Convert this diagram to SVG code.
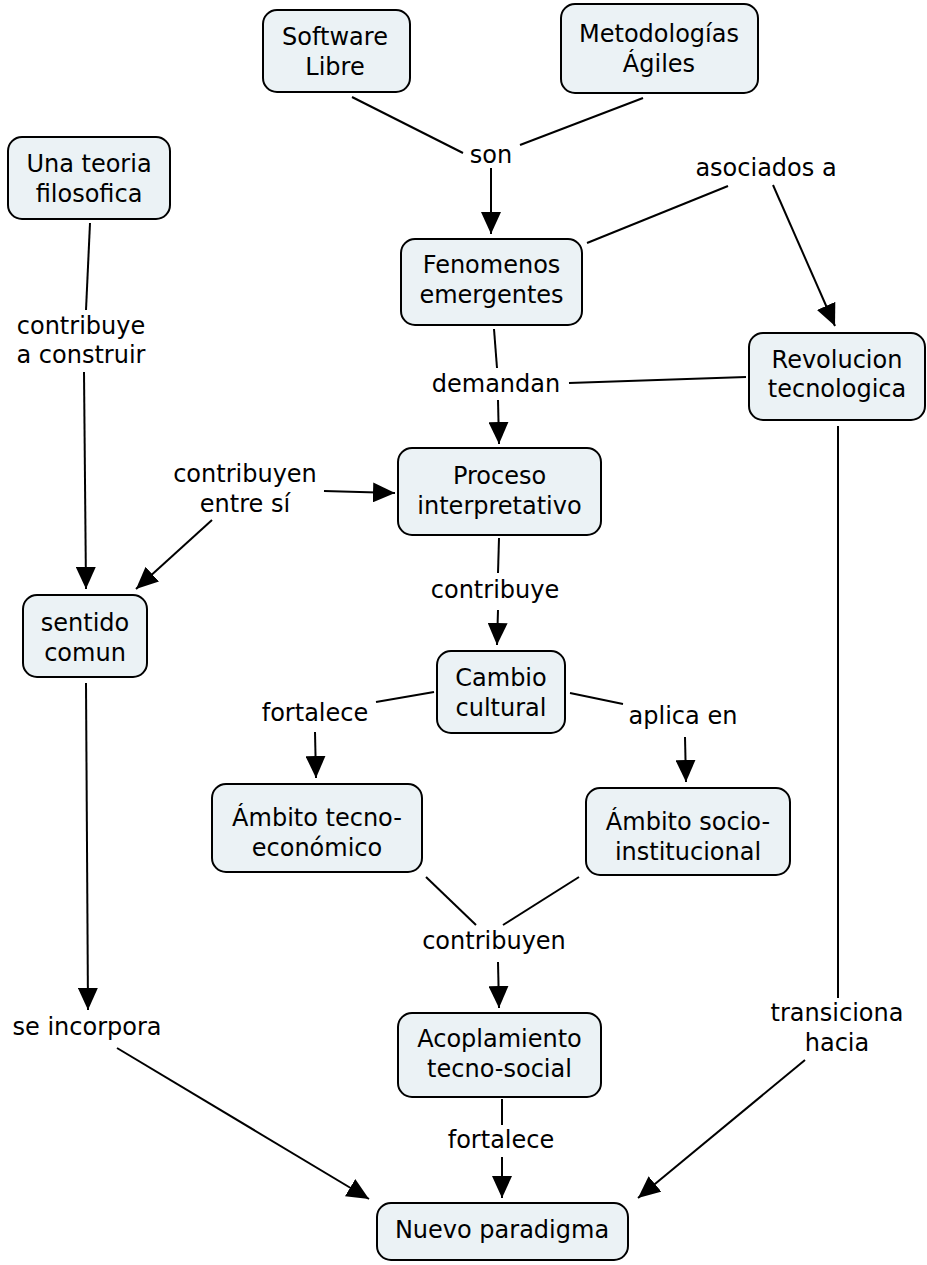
<svg xmlns="http://www.w3.org/2000/svg" width="927" height="1265" viewBox="0 0 927 1265">
<style>
.n rect{fill:#ebf2f5;stroke:#000;stroke-width:2}
text{font-family:"DejaVu Sans","Verdana",sans-serif;font-size:24px;fill:#000;text-anchor:middle}
.c line{stroke:#000;stroke-width:2;fill:none}
</style>
<defs>
<marker id="ah" viewBox="0 0 22 20" refX="22" refY="10" markerWidth="22" markerHeight="20" markerUnits="userSpaceOnUse" orient="auto">
<path d="M0,0 L22,10 L0,20 z" fill="#000"/>
</marker>
</defs>
<rect width="927" height="1265" fill="#fff"/>
<g class="c" id="connectors">
<line x1="352" y1="97" x2="463" y2="153"/>
<line x1="643" y1="98" x2="520" y2="145"/>
<line x1="491" y1="168" x2="491" y2="234" marker-end="url(#ah)"/>
<line x1="587" y1="243" x2="728" y2="186"/>
<line x1="773" y1="185" x2="835" y2="326" marker-end="url(#ah)"/>
<line x1="494" y1="329" x2="497" y2="368"/>
<line x1="498" y1="400" x2="499" y2="444" marker-end="url(#ah)"/>
<line x1="746" y1="377" x2="569" y2="383"/>
<line x1="838" y1="426" x2="838" y2="998"/>
<line x1="805" y1="1060" x2="638" y2="1198" marker-end="url(#ah)"/>
<line x1="90" y1="223" x2="86" y2="310"/>
<line x1="84" y1="372" x2="86" y2="589" marker-end="url(#ah)"/>
<line x1="324" y1="491" x2="395" y2="493" marker-end="url(#ah)"/>
<line x1="212" y1="520" x2="136" y2="589" marker-end="url(#ah)"/>
<line x1="499" y1="538" x2="498" y2="573"/>
<line x1="498" y1="610" x2="497" y2="645" marker-end="url(#ah)"/>
<line x1="434" y1="692" x2="376" y2="702"/>
<line x1="315" y1="732" x2="316" y2="778" marker-end="url(#ah)"/>
<line x1="570" y1="693" x2="623" y2="704"/>
<line x1="685" y1="737" x2="686" y2="782" marker-end="url(#ah)"/>
<line x1="426" y1="877" x2="476" y2="925"/>
<line x1="579" y1="877" x2="503" y2="925"/>
<line x1="498" y1="962" x2="499" y2="1008" marker-end="url(#ah)"/>
<line x1="502" y1="1099" x2="502" y2="1125"/>
<line x1="502" y1="1157" x2="502" y2="1198" marker-end="url(#ah)"/>
<line x1="86" y1="683" x2="88" y2="1010" marker-end="url(#ah)"/>
<line x1="117" y1="1048" x2="369" y2="1199" marker-end="url(#ah)"/>
</g>
<g id="labels">
<text x="491" y="163">son</text>
<text x="766" y="176">asociados a</text>
<text x="81" y="334">contribuye</text>
<text x="81" y="363">a construir</text>
<text x="496" y="392">demandan</text>
<text x="245" y="482">contribuyen</text>
<text x="245" y="512">entre sí</text>
<text x="495" y="598">contribuye</text>
<text x="315" y="721">fortalece</text>
<text x="683" y="724">aplica en</text>
<text x="494" y="949">contribuyen</text>
<text x="501" y="1148">fortalece</text>
<text x="87" y="1035">se incorpora</text>
<text x="837" y="1021">transiciona</text>
<text x="837" y="1051">hacia</text>
</g>
<g class="n" id="n-software"><rect x="263" y="10" width="147" height="82" rx="14"/><text x="335" y="45">Software</text><text x="335" y="75">Libre</text></g>
<g class="n" id="n-metodologias"><rect x="561" y="4" width="197" height="89" rx="14"/><text x="659" y="42">Metodologías</text><text x="659" y="72">Ágiles</text></g>
<g class="n" id="n-teoria"><rect x="8" y="137" width="162" height="82" rx="14"/><text x="89" y="172">Una teoria</text><text x="89" y="202">filosofica</text></g>
<g class="n" id="n-fenomenos"><rect x="401" y="239" width="181" height="86" rx="14"/><text x="491.5" y="273">Fenomenos</text><text x="491.5" y="303">emergentes</text></g>
<g class="n" id="n-revolucion"><rect x="749" y="333" width="176" height="87" rx="14"/><text x="837" y="368">Revolucion</text><text x="837" y="397">tecnologica</text></g>
<g class="n" id="n-proceso"><rect x="398" y="448" width="203" height="87" rx="14"/><text x="499.5" y="484">Proceso</text><text x="499.5" y="514">interpretativo</text></g>
<g class="n" id="n-sentido"><rect x="23" y="595" width="124" height="82" rx="14"/><text x="85" y="631">sentido</text><text x="85" y="661">comun</text></g>
<g class="n" id="n-cambio"><rect x="437" y="651" width="128" height="82" rx="14"/><text x="501" y="686">Cambio</text><text x="501" y="716">cultural</text></g>
<g class="n" id="n-tecnoeco"><rect x="212" y="784" width="210" height="88" rx="14"/><text x="317" y="826">Ámbito tecno-</text><text x="317" y="856">económico</text></g>
<g class="n" id="n-socioinst"><rect x="586" y="788" width="204" height="87" rx="14"/><text x="688" y="830">Ámbito socio-</text><text x="688" y="860">institucional</text></g>
<g class="n" id="n-acoplamiento"><rect x="398" y="1013" width="203" height="84" rx="14"/><text x="499.5" y="1047">Acoplamiento</text><text x="499.5" y="1077">tecno-social</text></g>
<g class="n" id="n-nuevo"><rect x="377" y="1203" width="251" height="57" rx="14"/><text x="502" y="1238">Nuevo paradigma</text></g>
</svg>
